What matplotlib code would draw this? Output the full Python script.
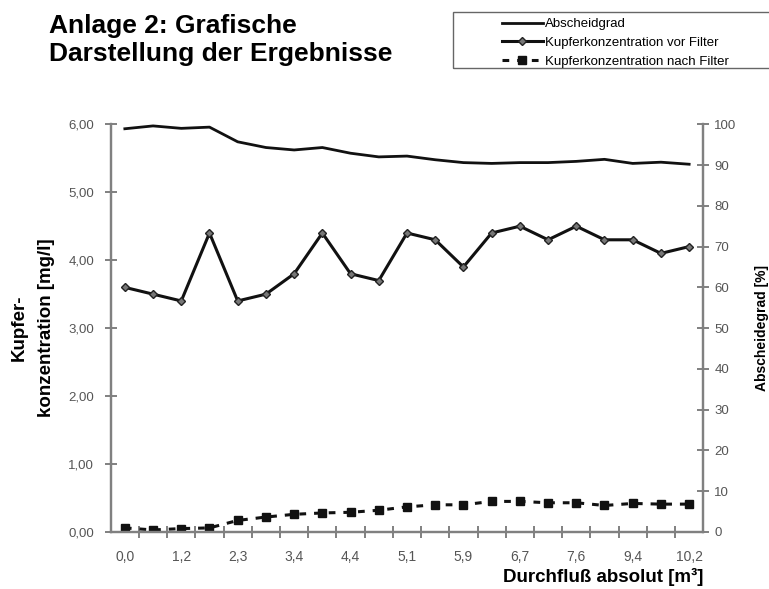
import numpy as np
from matplotlib import pyplot as plt
from matplotlib.patches import Rectangle
from matplotlib.ticker import FuncFormatter

# values
abscheidgrad = [98.9, 99.6, 99.0, 99.3, 95.7, 94.3, 93.7, 94.3, 92.9, 92.0, 92.2,
                91.3, 90.6, 90.4, 90.6, 90.6, 90.9, 91.4, 90.4, 90.7, 90.2]
cu_vor = [3.6, 3.5, 3.4, 4.4, 3.4, 3.5, 3.8, 4.4, 3.8, 3.7, 4.4,
          4.3, 3.9, 4.4, 4.5, 4.3, 4.5, 4.3, 4.3, 4.1, 4.2]
cu_nach = [0.06, 0.03, 0.05, 0.06, 0.17, 0.22, 0.26, 0.28, 0.29, 0.32, 0.37,
           0.40, 0.40, 0.45, 0.45, 0.43, 0.43, 0.39, 0.42, 0.41, 0.41]
flow_labels = ["0,0", "1,2", "2,3", "3,4", "4,4", "5,1", "5,9", "6,7", "7,6", "9,4", "10,2"]

legend_labels = ["Abscheidgrad", "Kupferkonzentration vor Filter",
                 "Kupferkonzentration nach Filter"]

plt.rcParams["font.family"] = ["Liberation Sans", "DejaVu Sans"]

AXIS_GREY = "#808080"
TEXT_GREY = "#555555"

fig = plt.figure(figsize=(7.69, 5.89), dpi=100)
ax = fig.add_axes([0.144, 0.0968, 0.7705, 0.6922])
ax2 = ax.twinx()

x = np.arange(len(cu_vor))

(h_vor,) = ax.plot(x, cu_vor, color="#111111", lw=2.2, marker="D", ms=4,
                   mfc="#777777", mec="#222222", mew=1.0)
(h_nach,) = ax.plot(x, cu_nach, color="#111111", lw=2.2, ls=(0, (2.2, 2.6)),
                    marker="s", ms=5.5, mfc="#111111", mec="#111111")
(h_abs,) = ax2.plot(x, abscheidgrad, color="#111111", lw=2.0)

ax.set_xlim(-0.5, len(x) - 0.5)
ax.set_ylim(0, 6)
ax2.set_ylim(0, 100)

ax.set_yticks(np.arange(0, 6.01, 1))
ax.yaxis.set_major_formatter(FuncFormatter(lambda v, p: f"{v:.2f}".replace(".", ",")))
ax2.set_yticks(np.arange(0, 101, 10))

ax.set_xticks(x[::2])
ax.set_xticklabels(flow_labels)
ax.set_xticks(np.arange(-0.5, len(x) + 0.5, 1)[1:-1], minor=True)

for a in (ax, ax2):
    a.spines["top"].set_visible(False)
    for s in ("left", "right", "bottom"):
        a.spines[s].set_color(AXIS_GREY)
        a.spines[s].set_linewidth(1.6)

ax.tick_params(axis="x", which="major", length=0, pad=13, labelsize=10,
               labelcolor=TEXT_GREY)
ax.tick_params(axis="x", which="minor", direction="inout", length=8, width=1.4,
               color=AXIS_GREY)
ax.tick_params(axis="y", direction="inout", length=8, width=1.4, color=AXIS_GREY,
               pad=8, labelsize=9.5, labelcolor=TEXT_GREY)
ax2.tick_params(axis="y", direction="inout", length=8, width=1.4, color=AXIS_GREY,
                pad=4, labelsize=9.5, labelcolor=TEXT_GREY)

ax.set_ylabel("Kupfer-\nkonzentration [mg/l]", fontsize=13.5, fontweight="bold",
              multialignment="center", labelpad=9.5, linespacing=1.75)
ax2.set_ylabel("Abscheidegrad [%]", fontsize=10, fontweight="bold", labelpad=13)
ax.set_xlabel("Durchfluß absolut [m³]", fontsize=13.5, fontweight="bold",
              loc="right", labelpad=3)

fig.text(49 / 769, 1 - 14 / 589, "Anlage 2: Grafische\nDarstellung der Ergebnisse",
         fontsize=19, fontweight="bold", va="top", ha="left", linespacing=1.2)

# legend box runs off the right edge in the original
fig.patches.append(Rectangle((453 / 769, 1 - 68 / 589), 0.45, 56 / 589,
                             transform=fig.transFigure, fill=False,
                             edgecolor="#666666", lw=1.0))
fig.legend([h_abs, h_vor, h_nach], legend_labels, loc="upper left",
           bbox_to_anchor=(502 / 769, 1 - 18 / 589), frameon=False, fontsize=9.5,
           handlelength=3.1, handletextpad=0.15, labelspacing=0.5,
           borderaxespad=0, borderpad=0)

fig.savefig("out.png", dpi=100)
